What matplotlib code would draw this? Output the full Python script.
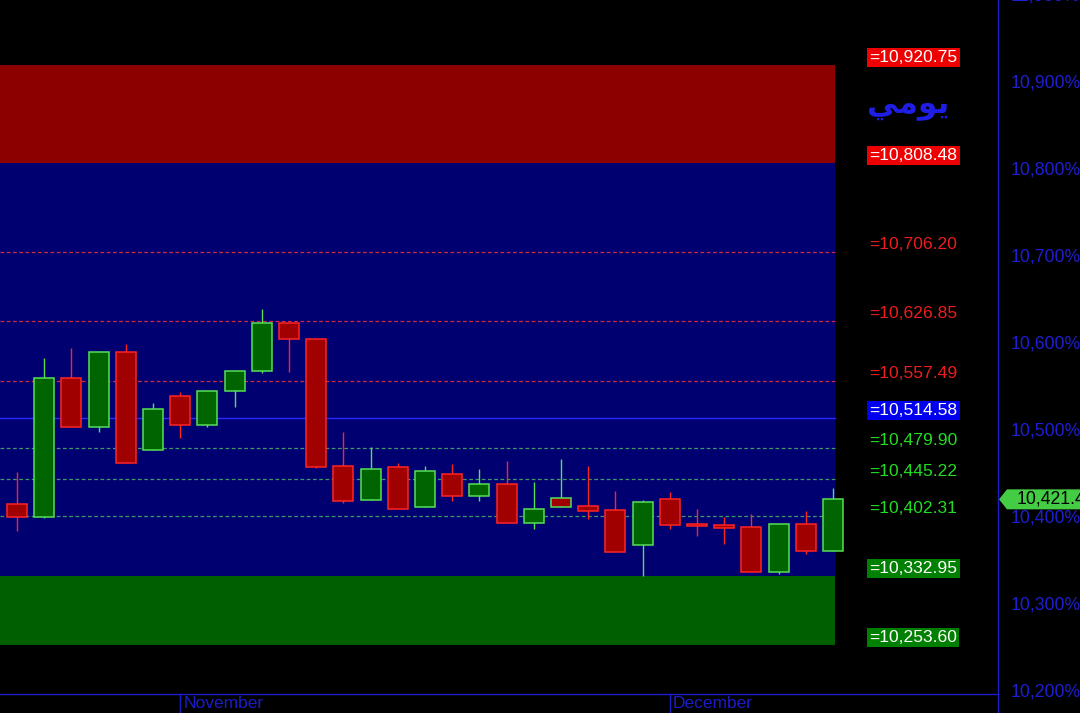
import matplotlib
matplotlib.use("Agg")
import matplotlib.pyplot as plt
from matplotlib.patches import Rectangle, Polygon
from matplotlib.transforms import IdentityTransform, blended_transform_factory

# ---------------- data ----------------
opens = [10415.7, 10400.8, 10560.6, 10505.0, 10590.4, 10478.5, 10539.9, 10507.2, 10545.6, 10568.6,
         10623.8, 10605.4, 10459.4, 10421.0, 10458.3, 10413.0, 10450.6, 10424.9, 10439.1, 10394.6,
         10422.6, 10413.8, 10409.2, 10369.3, 10421.8, 10393.1, 10392.0, 10389.7, 10337.6, 10392.8,
         10362.4]
highs = [10452.5, 10584.3, 10595.8, 10591.0, 10599.6, 10532.6, 10544.8, 10545.8, 10568.8, 10639.9,
         10624.2, 10605.6, 10498.5, 10482.0, 10462.9, 10459.8, 10461.7, 10456.3, 10465.9, 10441.4,
         10468.2, 10460.1, 10431.4, 10420.7, 10429.5, 10410.0, 10400.8, 10404.6, 10393.0, 10408.4,
         10434.5]
lows = [10385.4, 10400.0, 10504.5, 10499.2, 10463.2, 10478.0, 10492.3, 10505.0, 10527.9, 10566.3,
        10568.2, 10458.0, 10416.9, 10420.8, 10410.5, 10412.8, 10419.5, 10419.9, 10394.4, 10387.4,
        10412.8, 10398.5, 10361.0, 10333.7, 10387.0, 10379.7, 10370.5, 10338.0, 10335.6, 10358.6,
        10362.0]
closes = [10400.8, 10560.6, 10505.0, 10590.4, 10463.6, 10524.9, 10507.2, 10545.6, 10568.6, 10623.8,
          10605.4, 10458.3, 10419.5, 10456.0, 10410.7, 10453.7, 10425.6, 10439.1, 10394.6, 10410.0,
          10413.0, 10408.4, 10361.3, 10418.0, 10392.0, 10390.8, 10388.9, 10338.3, 10392.8, 10361.7,
          10421.45]

months = ["November", "December"]
month_start_idx = [6, 24]

red_levels = [10920.75, 10808.48, 10706.20, 10626.85, 10557.49]
pivot_level = 10514.58
green_levels = [10479.90, 10445.22, 10402.31, 10332.95, 10253.60]

y_ticks = [10200, 10300, 10400, 10500, 10600, 10700, 10800, 10900, 11000]
title_ar = "\ufef2\ufee3\ufeee\ufef3"  # يومي (presentation forms, visual order)

# ---------------- colours ----------------
NAVY = "#000070"
RED_BAND = "#8c0000"
GREEN_BAND = "#006000"
AX_BLUE = "#1c1cc8"
TICK_BLUE = "#1e1ed2"
G_FILL, G_EDGE = "#006400", "#55e055"
R_FILL, R_EDGE = "#a00000", "#ff2424"

W, H = 1080, 713
fig = plt.figure(figsize=(W / 100, H / 100), dpi=100, facecolor="black")
ax = fig.add_axes([0, 19 / H, 998 / W, 694 / H])
ax.set_facecolor("black")

n = len(closes)
x_left = -17 / 27.2
x_right = (998 - 17) / 27.2
ax.set_xlim(x_left, x_right)
ax.set_ylim(10900 - 611 / 0.87, 10900 + 83 / 0.87)

band_end = n - 1 + 0.07
# bands
ax.fill_between([x_left, band_end], red_levels[1], red_levels[0], color=RED_BAND, lw=0, zorder=1)
ax.fill_between([x_left, band_end], green_levels[3], red_levels[1], color=NAVY, lw=0, zorder=1)
ax.fill_between([x_left, band_end], green_levels[4], green_levels[3], color=GREEN_BAND, lw=0, zorder=1)

# level lines
for lv in red_levels[2:]:
    ax.plot([x_left, band_end], [lv, lv], color="#d02840", lw=0.9, ls=(0, (3, 2)), zorder=2)
ax.plot([x_left, band_end], [pivot_level, pivot_level], color="#2a2aff", lw=1.0, zorder=2)
for lv in green_levels[:3]:
    ax.plot([x_left, band_end], [lv, lv], color="#3c9a6a", lw=0.9, ls=(0, (3, 2)), zorder=2)

# candles
bw = 20 / 27.2
for i in range(n):
    o, h, l, c = opens[i], highs[i], lows[i], closes[i]
    fill = G_FILL if c >= o else R_FILL
    ref = closes[i - 1] if i > 0 else o
    edge = G_EDGE if c >= ref else R_EDGE
    ax.plot([i, i], [l, h], color=edge, lw=1.0, zorder=3, solid_capstyle="butt")
    bottom = min(o, c)
    height = max(abs(c - o), 0.8)
    ax.add_patch(Rectangle((i - bw / 2, bottom), bw, height, facecolor=fill,
                           edgecolor=edge, lw=1.1, zorder=4))

# spines
for s in ["left", "top", "right"]:
    ax.spines[s].set_visible(False)
ax.spines["bottom"].set_color(AX_BLUE)
ax.spines["bottom"].set_linewidth(1.0)
ax.set_xticks([])
ax.set_yticks([])
fig.add_artist(plt.Line2D([998 / W, 998 / W], [0, 1], color=AX_BLUE, lw=1.0,
                          transform=fig.transFigure))

# month ticks and labels
tb = blended_transform_factory(ax.transData, ax.transAxes)
for m, idx in zip(months, month_start_idx):
    ax.plot([idx, idx], [0, -19 / 694], color=AX_BLUE, lw=1.0, transform=tb, clip_on=False)
    ax.text(idx + 3 / 27.2, -10 / 694, m, transform=tb, color=AX_BLUE, fontsize=12.5,
            family="Liberation Sans", ha="left", va="center")

# right axis tick labels
for v in y_ticks:
    ax.annotate(f"{v:,}%", xy=(1, v), xycoords=("axes fraction", "data"),
                xytext=(9.4, 0), textcoords="offset points", ha="left", va="center",
                color=TICK_BLUE, fontsize=12.7, family="Liberation Sans",
                annotation_clip=False)

# level labels
lab_x = 869.5 / 998


def level_label(v, color, box=None):
    kw = {}
    if box is not None:
        kw["bbox"] = dict(boxstyle="square,pad=0.12", fc=box, ec="none")
    ax.annotate(f"={v:,.2f}", xy=(lab_x, v), xycoords=("axes fraction", "data"),
                xytext=(0, 5.4), textcoords="offset points", ha="left", va="center",
                color=color, fontsize=12.6, family="Liberation Sans",
                annotation_clip=False, **kw)


level_label(red_levels[0], "white", "#ee0000")
level_label(red_levels[1], "white", "#ee0000")
for lv in red_levels[2:]:
    level_label(lv, "#ee1c1c")
level_label(pivot_level, "white", "#0000ee")
for lv in green_levels[:3]:
    level_label(lv, "#22dd22")
level_label(green_levels[3], "white", "#008000")
level_label(green_levels[4], "white", "#008000")

# Arabic label
ax.text(867 / 998, 1 - 105 / 694, title_ar, transform=ax.transAxes, color="#1e1ee6",
        fontsize=22.5, fontweight="bold", family="DejaVu Sans", ha="left", va="center")

# current price marker
fig.canvas.draw()
_, ypix = ax.transData.transform((0, closes[-1]))
poly = Polygon([(999, ypix), (1007, ypix + 10), (1085, ypix + 10), (1085, ypix - 10),
                (1007, ypix - 10)], closed=True, facecolor="#44cc44", edgecolor="none",
               transform=IdentityTransform())
fig.add_artist(poly)
fig.text(1017 / W, ypix / H, f"{closes[-1]:,.2f}", color="black", fontsize=12.7,
         family="Liberation Sans", ha="left", va="center")

fig.savefig("out.png", dpi=100, facecolor="black")
